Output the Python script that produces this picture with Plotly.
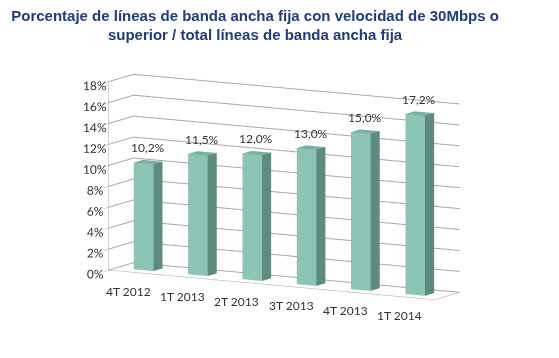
import plotly.graph_objects as go

categories = ["4T 2012", "1T 2013", "2T 2013", "3T 2013", "4T 2013", "1T 2014"]
values = [10.2, 11.5, 12.0, 13.0, 15.0, 17.2]
z_ticks = [0, 2, 4, 6, 8, 10, 12, 14, 16, 18]

FRONT = "#8cc5b6"
SIDE = "#5e8b7f"
TOP = "#79b0a2"
TEXT = "#333333"

bar_w = 0.36
y0, y1 = 0.32, 0.68

fig = go.Figure()

for i, v in enumerate(values):
    xa, xb = i - bar_w / 2, i + bar_w / 2
    xs = [xa, xb, xb, xa, xa, xb, xb, xa]
    ys = [y0, y0, y1, y1, y0, y0, y1, y1]
    zs = [0, 0, 0, 0, v, v, v, v]
    I = [0, 0, 4, 4, 0, 0, 3, 3, 0, 0, 1, 1]
    J = [1, 2, 5, 6, 1, 5, 2, 6, 3, 7, 2, 6]
    K = [2, 3, 6, 7, 5, 4, 6, 7, 7, 4, 6, 5]
    fc = [SIDE, SIDE, TOP, TOP, FRONT, FRONT, SIDE, SIDE, SIDE, SIDE, SIDE, SIDE]
    fig.add_trace(go.Mesh3d(
        x=xs, y=ys, z=zs, i=I, j=J, k=K, facecolor=fc, flatshading=True,
        lighting=dict(ambient=1, diffuse=0, specular=0, roughness=1, fresnel=0),
        hoverinfo="skip", showscale=False,
    ))

labels = [f"{v:.1f}".replace(".", ",") + "%" for v in values]
font = dict(family="Lato, sans-serif", size=12, color=TEXT)
annotations = [
    dict(x=i, y=(y0 + y1) / 2, z=v, text=t, showarrow=False, yshift=14, font=font)
    for i, (v, t) in enumerate(zip(values, labels))
] + [
    dict(x=i, y=0, z=0, text=c, showarrow=False, yshift=-19, xshift=-7, font=font)
    for i, c in enumerate(categories)
]

axis_common = dict(showbackground=False, showspikes=False, zeroline=False,
                   linecolor="#a6a6a6", linewidth=1, title=dict(text=""))

fig.update_layout(
    width=559, height=358,
    paper_bgcolor="white",
    margin=dict(l=0, r=0, t=0, b=0),
    showlegend=False,
    title=dict(
        text="Porcentaje de líneas de banda ancha fija con velocidad de 30Mbps o<br>superior / total líneas de banda ancha fija",
        x=0.442, xanchor="center", y=0.965, yanchor="top",
        font=dict(family="Liberation Sans, Arial, sans-serif", size=15, color="#1f3d7a", weight="bold"),
    ),
    scene=dict(
        domain=dict(x=[0.078, 0.908], y=[0.071, 0.931]),
        xaxis=dict(**axis_common, range=[-0.5, 5.5],
                   tickvals=[k - 0.5 for k in range(len(categories) + 1)],
                   ticktext=[""] * (len(categories) + 1),
                   showgrid=False, showline=True, ticks="outside", tickcolor="#a6a6a6", ticklen=5,
                   tickangle=0, tickfont=font),
        yaxis=dict(**axis_common, range=[0, 1], showgrid=False, showticklabels=False, showline=True),
        zaxis=dict(**axis_common, range=[0, 18], tickvals=z_ticks, ticktext=[f"{t}%" for t in z_ticks],
                   showgrid=True, gridcolor="#a6a6a6", showline=True, ticks="outside", tickcolor="#a6a6a6",
                   ticklen=5, tickangle=0, tickfont=font),
        aspectmode="manual", aspectratio=dict(x=2.42, y=0.335, z=1.24),
        camera=dict(eye=dict(x=0.956, y=-1.724, z=0.328), projection=dict(type="orthographic")),
        annotations=annotations,
        dragmode=False,
    ),
)

fig.write_html("out.html")
